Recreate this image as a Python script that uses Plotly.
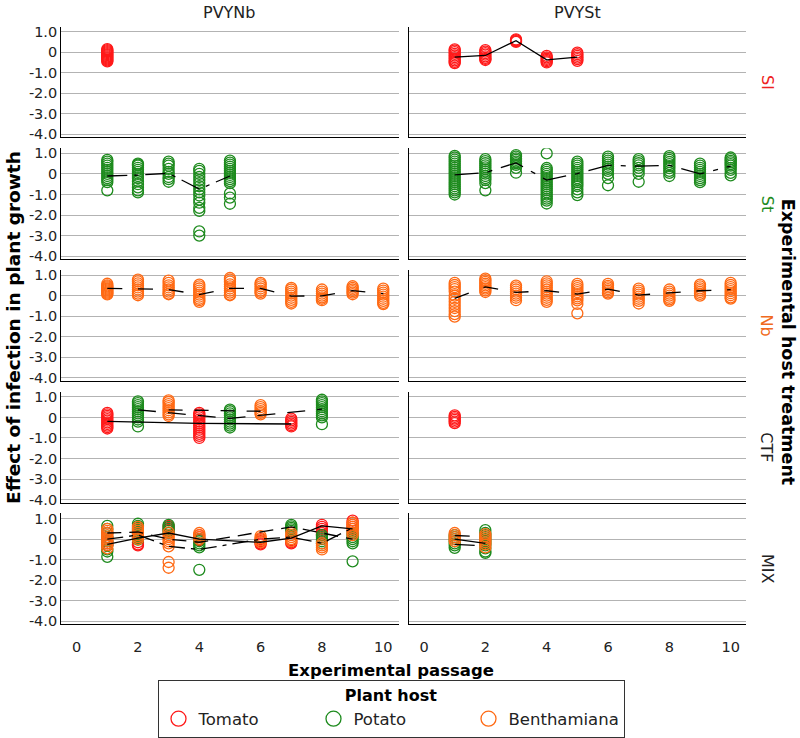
import plotly.graph_objects as go

# ---------------- categories / labels ----------------
COLS = ["PVYNb", "PVYSt"]
ROWS = ["Sl", "St", "Nb", "CTF", "MIX"]
ROW_COLORS = ["#ee2222", "#1e8b1e", "#f06a20", "#222222", "#222222"]
HOSTS = ["Tomato", "Potato", "Benthamiana"]
HOST_COLORS = ["#ff1a1a", "#1e8b1e", "#ff6a14"]
X_TICKS = [0, 2, 4, 6, 8, 10]
Y_TICKS = [1, 0, -1, -2, -3, -4]
Y_TICK_TEXT = ["1.0", "0", "-1.0", "-2.0", "-3.0", "-4.0"]

# ---------------- data ----------------
# PVYNb / Sl
NB_SL_TOMATO_X = [1]
NB_SL_TOMATO_Y = [[0.15, 0.1, 0.05, 0.0, -0.05, -0.1, -0.15, -0.2, -0.25, -0.3, -0.35, -0.4, -0.45]]

# PVYSt / Sl
ST_SL_TOMATO_X = [1, 2, 3, 4, 5]
ST_SL_TOMATO_Y = [
    [0.14, 0.08, 0.0, -0.08, -0.16, -0.24, -0.32, -0.4, -0.47, -0.53],
    [0.1, 0.03, -0.05, -0.12, -0.2, -0.28, -0.33, -0.38],
    [0.62, 0.58, 0.54, 0.5],
    [-0.18, -0.25, -0.32, -0.38, -0.44, -0.5],
    [-0.02, -0.1, -0.18, -0.26, -0.34, -0.42],
]
ST_SL_TOMATO_MEAN = [-0.24, -0.16, 0.56, -0.37, -0.24]

# PVYNb / St
NB_ST_POTATO_X = [1, 2, 3, 4, 5]
NB_ST_POTATO_Y = [
    [0.68, 0.6, 0.5, 0.4, 0.3, 0.2, 0.1, 0.0, -0.1, -0.2, -0.3, -0.4, -0.8],
    [0.5, 0.45, 0.4, 0.3, 0.2, 0.1, 0.0, -0.1, -0.2, -0.35, -0.5, -0.65, -0.8, -0.9],
    [0.6, 0.5, 0.4, 0.25, 0.1, 0.0, -0.15, -0.25, -0.38],
    [0.25, 0.15, 0.0, -0.15, -0.3, -0.45, -0.6, -0.75, -0.9, -1.05, -1.25, -1.4, -1.65, -1.8, -2.8, -3.0],
    [0.65, 0.55, 0.45, 0.35, 0.25, 0.15, 0.05, -0.05, -0.15, -0.25, -0.35, -0.45, -0.95, -1.15, -1.45],
]
NB_ST_POTATO_MEAN = [-0.1, -0.06, 0.03, -0.74, -0.1]

# PVYSt / St
ST_ST_POTATO_X = [1, 2, 3, 4, 5, 6, 7, 8, 9, 10]
ST_ST_POTATO_Y = [
    [0.88, 0.8, 0.7, 0.6, 0.5, 0.4, 0.3, 0.2, 0.1, 0.0, -0.1, -0.2, -0.3, -0.4, -0.5, -0.6, -0.7, -0.8, -0.9, -1.0],
    [0.72, 0.62, 0.52, 0.42, 0.32, 0.22, 0.12, 0.02, -0.1, -0.2, -0.3, -0.45, -0.8],
    [0.92, 0.84, 0.76, 0.68, 0.6, 0.52, 0.44, 0.3, 0.06],
    [1.0, 0.29, 0.2, 0.1, 0.0, -0.1, -0.2, -0.3, -0.4, -0.5, -0.6, -0.7, -0.8, -0.9, -1.0, -1.1, -1.2, -1.3, -1.44],
    [0.6, 0.5, 0.4, 0.3, 0.2, 0.1, 0.0, -0.1, -0.2, -0.3, -0.4, -0.5, -0.6, -0.75, -0.9, -1.03],
    [0.84, 0.75, 0.65, 0.55, 0.45, 0.35, 0.25, 0.15, 0.0, -0.2, -0.55],
    [0.72, 0.62, 0.52, 0.42, 0.3, 0.15, 0.0, -0.38],
    [0.87, 0.78, 0.68, 0.58, 0.48, 0.38, 0.28, 0.15, 0.05, -0.1],
    [0.5, 0.4, 0.3, 0.2, 0.1, 0.0, -0.1, -0.2, -0.3, -0.4],
    [0.8, 0.72, 0.64, 0.56, 0.48, 0.4, 0.3, 0.2, 0.05, -0.07],
]
ST_ST_POTATO_MEAN = [-0.05, 0.06, 0.54, -0.3, 0.02, 0.42, 0.38, 0.42, 0.0, 0.38]

# PVYNb / Nb
NB_NB_BENTH_X = [1, 2, 3, 4, 5, 6, 7, 8, 9, 10]
NB_NB_BENTH_Y = [
    [0.58, 0.5, 0.45, 0.4, 0.35, 0.3, 0.25, 0.2, 0.15, 0.1, 0.06],
    [0.78, 0.7, 0.6, 0.5, 0.4, 0.3, 0.2, 0.1, 0.02],
    [0.73, 0.62, 0.5, 0.4, 0.3, 0.2, 0.1, 0.07],
    [0.54, 0.45, 0.35, 0.25, 0.15, 0.05, -0.05, -0.15, -0.22, -0.3],
    [0.86, 0.78, 0.68, 0.55, 0.45, 0.35, 0.25, 0.15, 0.05, 0.02],
    [0.62, 0.55, 0.45, 0.35, 0.25, 0.18, 0.1],
    [0.38, 0.3, 0.2, 0.1, 0.0, -0.1, -0.2, -0.3, -0.38],
    [0.3, 0.2, 0.1, 0.0, -0.08, -0.15, -0.22],
    [0.46, 0.38, 0.3, 0.22, 0.15, 0.07],
    [0.34, 0.25, 0.15, 0.05, -0.05, -0.15, -0.25, -0.35, -0.41],
]
NB_NB_BENTH_MEAN = [0.36, 0.33, 0.3, 0.05, 0.36, 0.36, -0.02, -0.01, 0.25, 0.1]

# PVYSt / Nb
ST_NB_BENTH_X = [1, 2, 3, 4, 5, 6, 7, 8, 9, 10]
ST_NB_BENTH_Y = [
    [0.62, 0.52, 0.42, 0.32, 0.2, 0.0, -0.15, -0.3, -0.45, -0.6, -0.75, -0.9, -1.02],
    [0.83, 0.75, 0.67, 0.58, 0.5, 0.42, 0.34, 0.26, 0.18],
    [0.49, 0.4, 0.3, 0.2, 0.1, 0.0, -0.1, -0.22],
    [0.7, 0.6, 0.5, 0.4, 0.3, 0.2, 0.1, 0.0, -0.1, -0.2, -0.3],
    [0.57, 0.47, 0.37, 0.27, 0.17, 0.07, -0.03, -0.13, -0.23, -0.4, -0.86],
    [0.57, 0.48, 0.4, 0.32, 0.24, 0.16, 0.1],
    [0.34, 0.25, 0.15, 0.05, -0.05, -0.15, -0.25, -0.38],
    [0.3, 0.2, 0.1, 0.0, -0.1, -0.18, -0.25],
    [0.54, 0.45, 0.36, 0.27, 0.18, 0.09, 0.0],
    [0.62, 0.52, 0.42, 0.32, 0.22, 0.12, 0.02, -0.08, -0.14],
]
ST_NB_BENTH_MEAN = [-0.13, 0.43, 0.16, 0.24, 0.08, 0.32, 0.03, 0.13, 0.24, 0.29]

# PVYNb / CTF
NB_CTF_TOMATO_X = [1, 4, 7]
NB_CTF_TOMATO_Y = [
    [0.22, 0.15, 0.08, 0.0, -0.08, -0.16, -0.24, -0.32, -0.4, -0.47, -0.54],
    [0.22, 0.15, 0.08, 0.0, -0.1, -0.2, -0.3, -0.4, -0.5, -0.6, -0.7, -0.8, -0.9, -1.0],
    [-0.06, -0.14, -0.22, -0.3, -0.38, -0.44],
]
NB_CTF_TOMATO_MEAN = [-0.19, -0.29, -0.32]
NB_CTF_POTATO_X = [2, 5, 8]
NB_CTF_POTATO_Y = [
    [0.78, 0.7, 0.6, 0.5, 0.4, 0.3, 0.2, 0.1, 0.0, -0.1, -0.2, -0.44],
    [0.38, 0.3, 0.2, 0.1, 0.0, -0.1, -0.2, -0.3, -0.4, -0.49],
    [0.86, 0.78, 0.7, 0.6, 0.5, 0.4, 0.3, 0.2, 0.1, 0.0, -0.33],
]
NB_CTF_POTATO_MEAN = [0.37, -0.05, 0.4]
NB_CTF_BENTH_X = [3, 6]
NB_CTF_BENTH_Y = [
    [0.83, 0.75, 0.65, 0.55, 0.45, 0.35, 0.25, 0.15, 0.07],
    [0.6, 0.5, 0.4, 0.3, 0.22, 0.15],
]
NB_CTF_BENTH_MEAN = [0.37, 0.3]

# PVYSt / CTF
ST_CTF_TOMATO_X = [1]
ST_CTF_TOMATO_Y = [[0.1, 0.03, -0.05, -0.12, -0.2, -0.28]]

# PVYNb / MIX
NB_MIX_TOMATO_X = [1, 2, 3, 4, 6, 7, 8, 9]
NB_MIX_TOMATO_Y = [
    [0.3, 0.1, -0.1, -0.2, -0.3],
    [0.3, 0.1, -0.15, -0.25, -0.3],
    [0.65, 0.55, 0.45],
    [0.2, 0.1, 0.0, -0.05],
    [0.0, -0.1, -0.2, -0.25],
    [-0.05, -0.15, -0.2],
    [0.7, 0.6, 0.5, 0.4, 0.3, 0.2],
    [0.9, 0.8, 0.7, 0.6, 0.5],
]
NB_MIX_TOMATO_MEAN = [-0.25, 0.05, 0.3, 0.0, -0.15, 0.05, 0.65, 0.5]
NB_MIX_POTATO_X = [1, 2, 3, 4, 7, 8, 9]
NB_MIX_POTATO_Y = [
    [0.65, 0.5, 0.3, 0.1, -0.1, -0.3, -0.5, -0.6, -0.86],
    [0.75, 0.65, 0.55, 0.45, 0.35, 0.25, 0.15, 0.05, -0.02],
    [0.7, 0.6, 0.5, 0.4, 0.3],
    [0.0, -0.1, -0.2, -0.3, -0.4, -1.49],
    [0.7, 0.62, 0.55, 0.48, 0.4],
    [0.2, 0.1, 0.0, -0.1, -0.2],
    [0.3, 0.2, 0.1, 0.0, -0.1, -0.2, -1.08],
]
NB_MIX_POTATO_MEAN = [0.3, 0.35, 0.0, -0.15, 0.6, 0.3, 0.0]
NB_MIX_BENTH_X = [1, 2, 3, 4, 6, 7, 8, 9]
NB_MIX_BENTH_Y = [
    [0.5, 0.4, 0.3, 0.2, 0.1, 0.0, -0.1, -0.2, -0.3, -0.45],
    [0.6, 0.5, 0.4, 0.3, 0.2, 0.1, 0.0],
    [0.33, 0.2, 0.1, 0.0, -0.1, -0.2, -0.35, -1.11, -1.39],
    [0.3, 0.2, 0.1, 0.0],
    [0.15, 0.05, -0.05, -0.15],
    [0.3, 0.2, 0.1, 0.0, -0.1],
    [-0.2, -0.3, -0.4, -0.5],
    [0.8, 0.7, 0.6, 0.5, 0.4, 0.3, 0.2],
]
NB_MIX_BENTH_MEAN = [0.0, 0.2, -0.35, -0.5, 0.0, 0.1, -0.2, 0.55]

# PVYSt / MIX
ST_MIX_POTATO_X = [1, 2]
ST_MIX_POTATO_Y = [
    [0.2, 0.1, 0.0, -0.1, -0.2, -0.3, -0.42],
    [0.44, 0.3, 0.2, 0.1, 0.0, -0.1, -0.2, -0.3, -0.45, -0.6, -0.67],
]
ST_MIX_POTATO_MEAN = [0.18, 0.12]
ST_MIX_BENTH_X = [1, 2]
ST_MIX_BENTH_Y = [
    [0.3, 0.2, 0.1, 0.0, -0.1],
    [0.25, 0.15, 0.05, -0.05, -0.15, -0.25, -0.4],
]
ST_MIX_BENTH_MEAN = [0.0, -0.2]
ST_MIX_TOMATO_MEAN_X = [1, 2]
ST_MIX_TOMATO_MEAN = [-0.25, -0.33]

# ---------------- registries built from the arrays ----------------
# (row, col, host index, passages, values)
POINTS = [
    (0, 0, 0, NB_SL_TOMATO_X, NB_SL_TOMATO_Y),
    (0, 1, 0, ST_SL_TOMATO_X, ST_SL_TOMATO_Y),
    (1, 0, 1, NB_ST_POTATO_X, NB_ST_POTATO_Y),
    (1, 1, 1, ST_ST_POTATO_X, ST_ST_POTATO_Y),
    (2, 0, 2, NB_NB_BENTH_X, NB_NB_BENTH_Y),
    (2, 1, 2, ST_NB_BENTH_X, ST_NB_BENTH_Y),
    (3, 0, 0, NB_CTF_TOMATO_X, NB_CTF_TOMATO_Y),
    (3, 0, 1, NB_CTF_POTATO_X, NB_CTF_POTATO_Y),
    (3, 0, 2, NB_CTF_BENTH_X, NB_CTF_BENTH_Y),
    (3, 1, 0, ST_CTF_TOMATO_X, ST_CTF_TOMATO_Y),
    (4, 0, 0, NB_MIX_TOMATO_X, NB_MIX_TOMATO_Y),
    (4, 0, 1, NB_MIX_POTATO_X, NB_MIX_POTATO_Y),
    (4, 0, 2, NB_MIX_BENTH_X, NB_MIX_BENTH_Y),
    (4, 1, 1, ST_MIX_POTATO_X, ST_MIX_POTATO_Y),
    (4, 1, 2, ST_MIX_BENTH_X, ST_MIX_BENTH_Y),
]
# (row, col, passages, means, dash)
LINES = [
    (0, 1, ST_SL_TOMATO_X, ST_SL_TOMATO_MEAN, "solid"),
    (1, 0, NB_ST_POTATO_X, NB_ST_POTATO_MEAN, "20px,7px,4px,7px"),
    (1, 1, ST_ST_POTATO_X, ST_ST_POTATO_MEAN, "24px,9px,5px,9px"),
    (2, 0, NB_NB_BENTH_X, NB_NB_BENTH_MEAN, "15px,15.7px"),
    (2, 1, ST_NB_BENTH_X, ST_NB_BENTH_MEAN, "15px,15.7px"),
    (3, 0, NB_CTF_TOMATO_X, NB_CTF_TOMATO_MEAN, "solid"),
    (3, 0, NB_CTF_POTATO_X, NB_CTF_POTATO_MEAN, "18px,12px"),
    (3, 0, NB_CTF_BENTH_X, NB_CTF_BENTH_MEAN, "14px,12px"),
    (4, 0, NB_MIX_TOMATO_X, NB_MIX_TOMATO_MEAN, "solid"),
    (4, 0, NB_MIX_POTATO_X, NB_MIX_POTATO_MEAN, "14px,8px"),
    (4, 0, NB_MIX_BENTH_X, NB_MIX_BENTH_MEAN, "16px,6px,4px,6px"),
    (4, 1, ST_MIX_POTATO_X, ST_MIX_POTATO_MEAN, "15px,30px"),
    (4, 1, ST_MIX_BENTH_X, ST_MIX_BENTH_MEAN, "solid"),
    (4, 1, ST_MIX_TOMATO_MEAN_X, ST_MIX_TOMATO_MEAN, "20px,30px"),
]

# ---------------- layout geometry (pixels) ----------------
W, H = 800, 738
COL_PX = [(61.3, 398.6), (408.7, 746.0)]
ROW_TOP0, ROW_STEP, ROW_H = 23.8, 123.25, 112.3
FONT = "DejaVu Sans"
TXT = "#222222"


def ax_suffix(r, c):
    i = r * 2 + c
    return "" if i == 0 else str(i + 1)


fig = go.Figure()

for (r, c, h, xs, ys) in POINTS:
    sfx = ax_suffix(r, c)
    px, py = [], []
    for x, vals in zip(xs, ys):
        for v in vals:
            px.append(x)
            py.append(v)
    fig.add_trace(go.Scatter(
        x=px, y=py, mode="markers", xaxis="x" + sfx, yaxis="y" + sfx,
        marker=dict(symbol="circle-open", size=11, color=HOST_COLORS[h],
                    line=dict(width=1.3, color=HOST_COLORS[h])),
        showlegend=False, hoverinfo="skip"))

for (r, c, xs, ms, dash) in LINES:
    sfx = ax_suffix(r, c)
    fig.add_trace(go.Scatter(
        x=xs, y=ms, mode="lines", xaxis="x" + sfx, yaxis="y" + sfx,
        line=dict(color="black", width=1.3, dash=dash),
        showlegend=False, hoverinfo="skip"))

# legend entries
for h, name in enumerate(HOSTS):
    fig.add_trace(go.Scatter(
        x=[None], y=[None], mode="markers", name=name,
        marker=dict(symbol="circle-open", size=15, color=HOST_COLORS[h],
                    line=dict(width=1.3, color=HOST_COLORS[h])),
        showlegend=True))

layout = dict(
    width=W, height=H, margin=dict(l=0, r=0, t=0, b=0),
    paper_bgcolor="white", plot_bgcolor="white",
    font=dict(family=FONT, color=TXT, size=14),
    showlegend=True,
)

for r in range(len(ROWS)):
    top = ROW_TOP0 + r * ROW_STEP
    ydom = [1 - (top + ROW_H) / H, 1 - top / H]
    for c in range(len(COLS)):
        sfx = ax_suffix(r, c)
        xdom = [COL_PX[c][0] / W, COL_PX[c][1] / W]
        layout["xaxis" + sfx] = dict(
            domain=xdom, anchor="y" + sfx, range=[-0.5, 10.5],
            tickvals=X_TICKS, showticklabels=(r == len(ROWS) - 1),
            showgrid=False, zeroline=False, showline=True,
            linecolor="black", linewidth=1.4, ticks="",
            tickfont=dict(size=14.5, color=TXT), ticklabelstandoff=9)
        layout["yaxis" + sfx] = dict(
            domain=ydom, anchor="x" + sfx, range=[-4.15, 1.25],
            tickvals=Y_TICKS, ticktext=Y_TICK_TEXT, showticklabels=(c == 0),
            showgrid=True, gridcolor="#b3b3b3", gridwidth=1.3,
            zeroline=False, showline=True, linecolor="black", linewidth=1.4,
            ticks="", tickfont=dict(size=14.5, color=TXT))

annotations = []
for c, name in enumerate(COLS):
    annotations.append(dict(
        text=name, x=(COL_PX[c][0] + COL_PX[c][1]) / 2 / W, y=1 - 10 / H,
        xref="paper", yref="paper", showarrow=False,
        xanchor="center", yanchor="middle", font=dict(size=16, color=TXT)))
for r, name in enumerate(ROWS):
    top = ROW_TOP0 + r * ROW_STEP
    annotations.append(dict(
        text=name, x=767 / W, y=1 - (top + ROW_H / 2) / H,
        xref="paper", yref="paper", showarrow=False, textangle=90,
        xanchor="center", yanchor="middle", font=dict(size=16, color=ROW_COLORS[r])))
annotations.append(dict(
    text="<b>Effect of infection in plant growth</b>", x=14 / W, y=1 - 329 / H,
    xref="paper", yref="paper", showarrow=False, textangle=-90,
    xanchor="center", yanchor="middle", font=dict(size=18.5, color="black")))
annotations.append(dict(
    text="<b>Experimental host treatment</b>", x=788 / W, y=1 - 343 / H,
    xref="paper", yref="paper", showarrow=False, textangle=90,
    xanchor="center", yanchor="middle", font=dict(size=17.5, color="black")))
annotations.append(dict(
    text="<b>Experimental passage</b>", x=391 / W, y=1 - 676 / H,
    xref="paper", yref="paper", showarrow=False,
    xanchor="center", yanchor="middle", font=dict(size=16.5, color="black")))
layout["annotations"] = annotations

layout["legend"] = dict(
    orientation="h", x=391 / W, xanchor="center", y=1 - 685 / H, yanchor="top",
    title=dict(text="<b>Plant host</b>", side="top center", font=dict(size=16, color="black")),
    font=dict(size=16.5, color=TXT), bordercolor="#333333", borderwidth=1,
    bgcolor="white", entrywidth=110, entrywidthmode="pixels", itemwidth=30)

fig.update_layout(**layout)
fig.write_html("out.html")
